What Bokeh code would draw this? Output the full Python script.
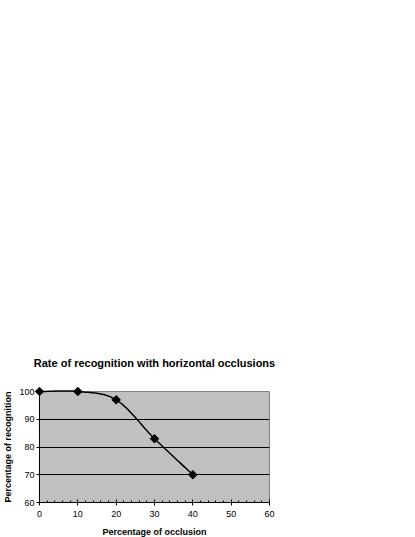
import numpy as np
from bokeh.plotting import figure
from bokeh.models import Range1d, FixedTicker, Title
from bokeh.embed import file_html
from bokeh.resources import INLINE

occlusion = [0, 10, 20, 30, 40]
recognition = [100, 100, 97, 83, 70]
x_ticks = [0, 10, 20, 30, 40, 50, 60]
y_ticks = [60, 70, 80, 90, 100]

FONT = "Liberation Sans"

def catmull_rom(xs, ys, n=30):
    xs = np.asarray(xs, float); ys = np.asarray(ys, float)
    px = np.concatenate([[2*xs[0]-xs[1]], xs, [2*xs[-1]-xs[-2]]])
    py = np.concatenate([[2*ys[0]-ys[1]], ys, [2*ys[-1]-ys[-2]]])
    out_x, out_y = [], []
    for i in range(1, len(px)-2):
        t = np.linspace(0, 1, n, endpoint=(i == len(px)-3))
        for arr, out in ((px, out_x), (py, out_y)):
            p0, p1, p2, p3 = arr[i-1], arr[i], arr[i+1], arr[i+2]
            out.extend(0.5*((2*p1) + (-p0+p2)*t + (2*p0-5*p1+4*p2-p3)*t**2 + (-p0+3*p1-3*p2+p3)*t**3))
    return out_x, out_y

sx, sy = catmull_rom(occlusion, recognition)

p = figure(output_backend="svg", toolbar_location=None,
           x_range=Range1d(0, 60), y_range=Range1d(60, 100),
           min_border_left=30, min_border_right=30, min_border_top=391, min_border_bottom=30)
p.frame_width = 230
p.frame_height = 111

p.border_fill_color = "white"
p.outline_line_color = "#808080"
p.outline_line_width = 1
p.background_fill_color = "#C0C0C0"

title = Title(text="Rate of recognition with horizontal occlusions", align="center",
              text_font=FONT, text_font_size="11px", text_font_style="bold",
              text_color="black", standoff=46)
p.add_layout(title, "above")

p.line(sx, sy, line_color="black", line_width=1.5, level="overlay")
p.scatter(occlusion, recognition, marker="square", angle=np.pi/4, size=6, color="black",
          level="overlay")

p.xaxis.ticker = FixedTicker(ticks=x_ticks, minor_ticks=list(np.arange(0, 61, 2)))
p.yaxis.ticker = FixedTicker(ticks=y_ticks)

p.xgrid.visible = False
p.ygrid.grid_line_color = "black"
p.ygrid.grid_line_width = 1

for ax in (p.xaxis[0], p.yaxis[0]):
    ax.axis_line_color = "black"
    ax.major_tick_line_color = "black"
    ax.minor_tick_line_color = "black"
    ax.major_label_text_font = FONT
    ax.major_label_text_font_size = "9px"
    ax.major_label_text_color = "black"
    ax.axis_label_text_font = FONT
    ax.axis_label_text_font_size = "9px"
    ax.axis_label_text_font_style = "bold"
    ax.axis_label_text_color = "black"

p.xaxis.axis_label = "Percentage of occlusion"
p.xaxis.major_tick_in = 3
p.xaxis.major_tick_out = 3
p.xaxis.minor_tick_in = 2
p.xaxis.minor_tick_out = 0
p.xaxis.major_label_standoff = 5
p.xaxis.axis_label_standoff = 7

p.yaxis.axis_label = "Percentage of recognition"
p.yaxis.major_tick_in = 0
p.yaxis.major_tick_out = 3
p.yaxis.minor_tick_in = 0
p.yaxis.minor_tick_out = 0
p.yaxis.major_label_standoff = 2
p.yaxis.axis_label_standoff = 3

open("out.html", "w").write(file_html(p, INLINE))
